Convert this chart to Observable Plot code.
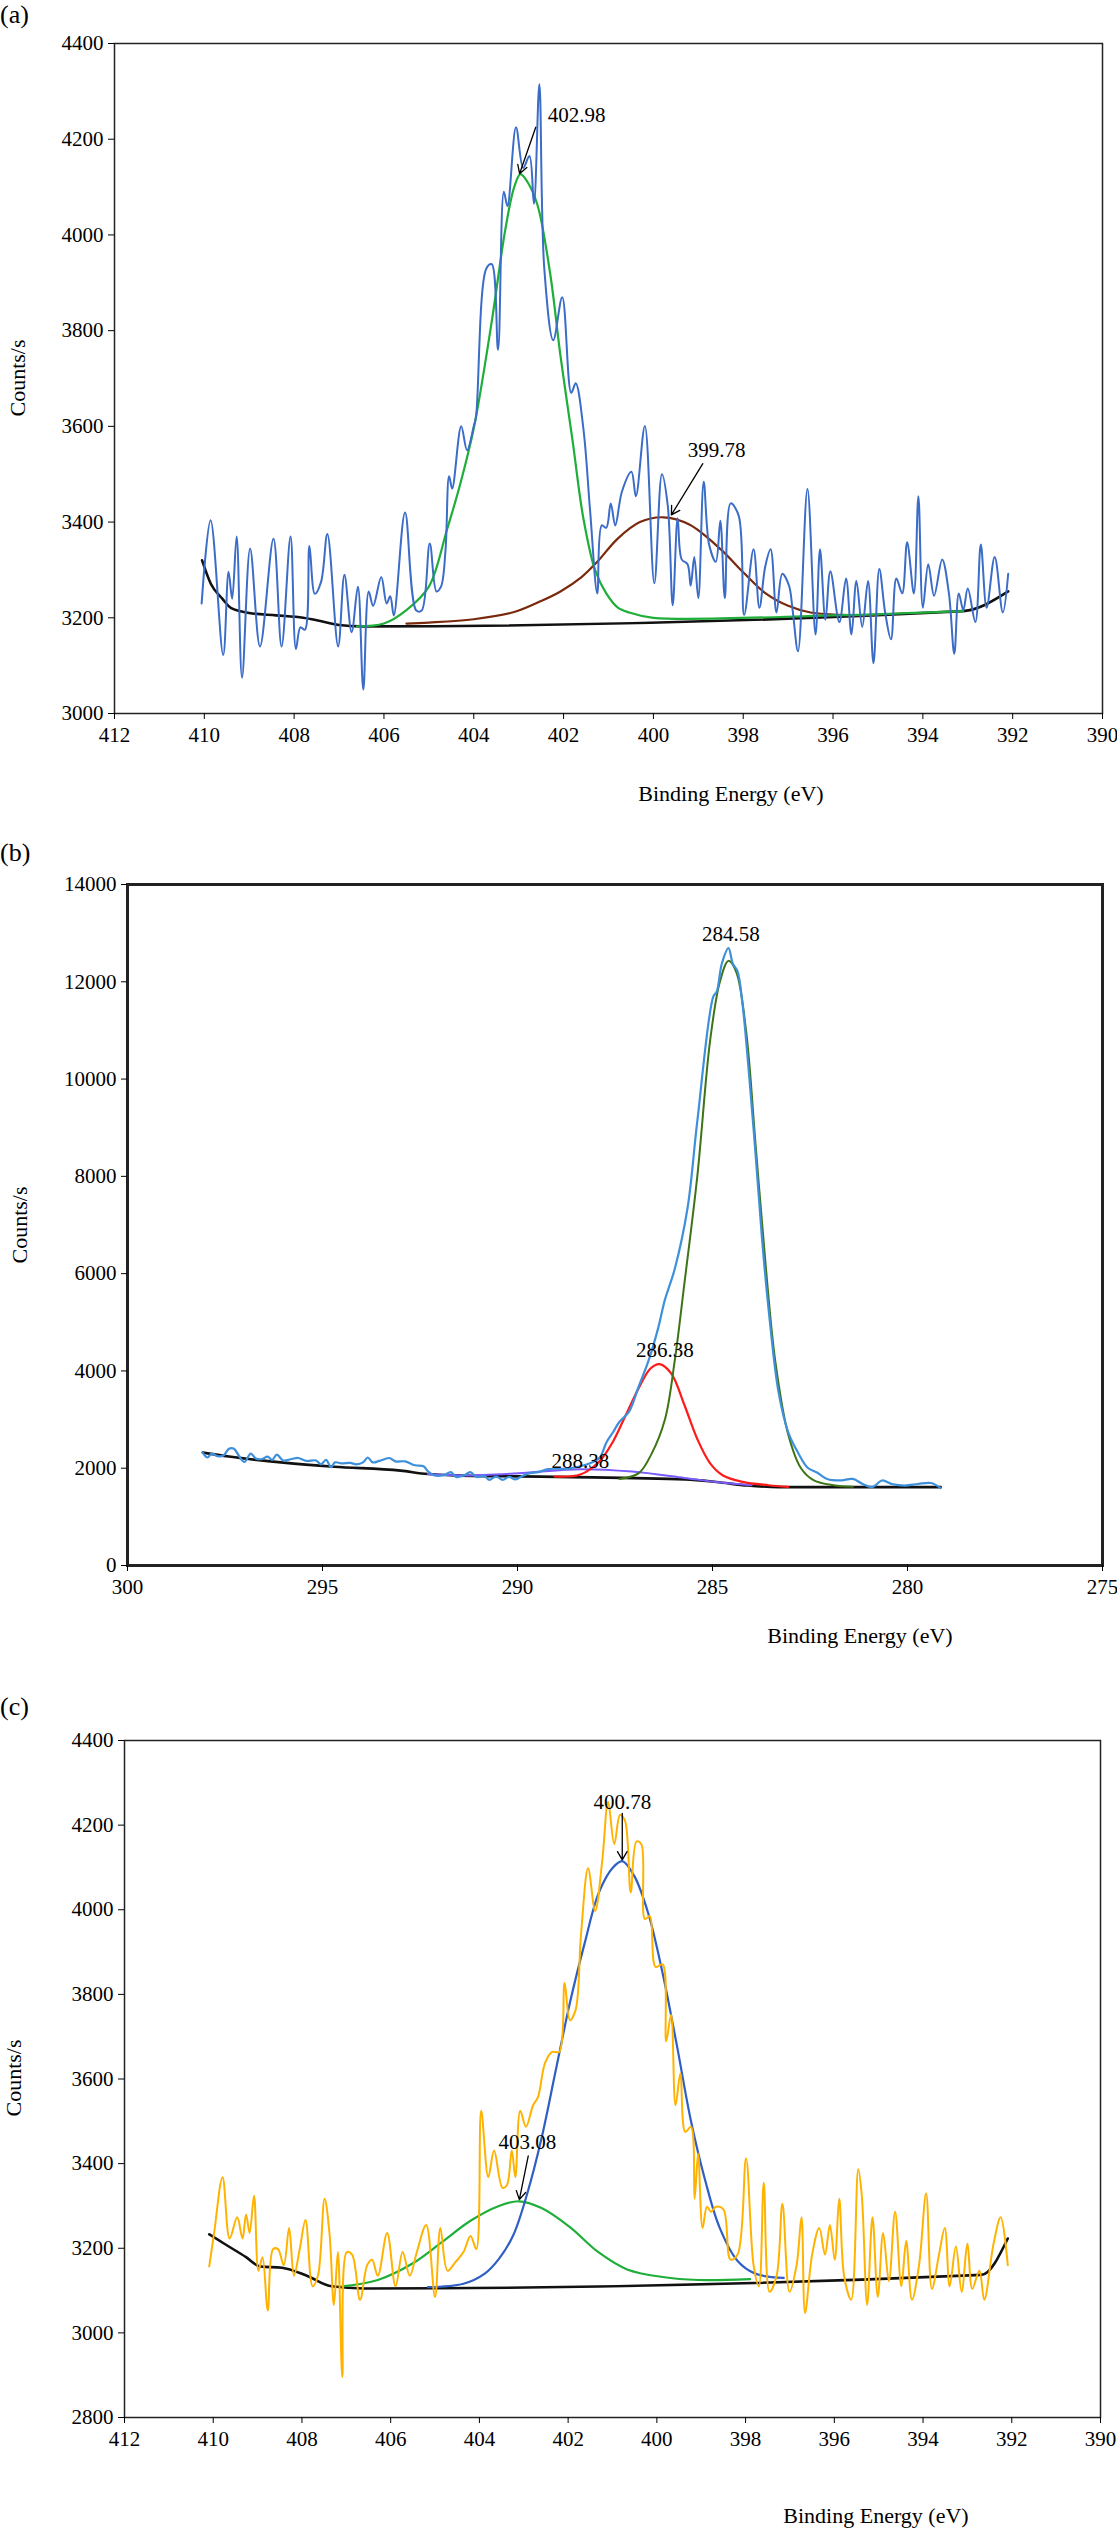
<!DOCTYPE html>
<html><head><meta charset="utf-8">
<script src="https://cdn.jsdelivr.net/npm/d3@7"></script>
<script src="https://cdn.jsdelivr.net/npm/@observablehq/plot@0.6"></script>
<style>
body{margin:0;background:#fff;font-family:'Liberation Serif','Times New Roman','DejaVu Serif',serif;}
#root{position:relative;width:1117px;height:2536px;}
.abs{position:absolute;}
.lbl{font-size:26px;}
.xt{font-size:22px;white-space:nowrap;transform:translateX(-50%);}
.yt{font-size:22px;white-space:nowrap;transform:translate(-50%,-50%) rotate(-90deg);}
svg text{font-family:'Liberation Serif','Times New Roman','DejaVu Serif',serif !important;}
</style></head><body><div id="root"></div>
<script>
// ---------- Panel (a) ----------
const aBlueX=[410.06,409.86,409.58,409.46,409.38,409.28,409.16,408.98,408.76,408.46,408.28,408.08,407.96,407.86,407.76,407.66,407.54,407.40,407.26,407.02,406.88,406.72,406.58,406.46,406.34,406.24,406.06,405.94,405.86,405.78,405.53,405.28,405.16,404.98,404.83,404.73,404.63,404.55,404.48,404.28,404.15,404.0,403.95,403.72,403.6,403.46,403.33,403.25,403.06,402.9,402.76,402.66,402.54,402.43,402.23,402.03,401.83,401.73,401.56,401.41,401.25,401.15,401.05,400.95,400.85,400.7,400.49,400.39,400.19,399.98,399.81,399.68,399.57,399.46,399.37,399.24,399.17,399.09,399.0,398.88,398.76,398.61,398.51,398.41,398.28,398.1,397.98,397.77,397.64,397.51,397.39,397.26,397.13,396.98,396.9,396.78,396.57,396.39,396.29,396.17,396.06,395.86,395.71,395.59,395.48,395.35,395.22,395.1,394.97,394.84,394.71,394.59,394.46,394.35,394.2,394.1,394.0,393.88,393.75,393.57,393.42,393.3,393.2,393.1,393.0,392.83,392.71,392.58,392.4,392.22,392.1];
const aBlueY=[3230,3404,3122,3296,3240,3370,3075,3345,3140,3365,3140,3370,3135,3180,3175,3350,3250,3275,3375,3140,3290,3170,3265,3050,3255,3225,3285,3230,3245,3205,3420,3215,3215,3355,3255,3265,3340,3496,3470,3600,3550,3600,3620,3930,3939,3760,4090,4060,4225,4140,4165,4065,4315,3930,3780,3870,3670,3690,3596,3424,3251,3393,3388,3439,3393,3464,3505,3454,3601,3272,3500,3434,3226,3408,3322,3312,3267,3327,3241,3484,3353,3317,3403,3241,3439,3413,3206,3343,3221,3307,3343,3211,3292,3267,3216,3130,3469,3165,3343,3196,3297,3191,3282,3165,3277,3181,3277,3105,3302,3211,3155,3282,3251,3358,3251,3454,3221,3312,3246,3322,3251,3125,3251,3216,3261,3191,3353,3221,3327,3211,3292];
const aBgX=[410.05,409.85,409.6,409.4,409.0,408.4,407.8,407.5,407.0,406.5,393.1,392.1];
const aBgY=[3320,3270,3240,3220,3210,3205,3200,3195,3185,3182,3214,3255];
const aGreenX=[406.6,406.0,405.5,405.0,404.6,404.3,404.0,403.6,403.3,403.1,402.96,402.8,402.58,402.3,402.07,401.8,401.56,401.3,401.05,400.8,400.54,400.0,396.0,393.1];
const aGreenY=[3182,3188,3216,3265,3383,3480,3596,3819,4010,4100,4127,4110,4062,3920,3748,3570,3408,3300,3251,3222,3211,3200,3205,3214];
const aBrownX=[405.5,405.0,404.0,403.1,402.5,402.07,401.6,401.25,400.8,400.3,399.78,399.2,398.5,398.0,397.5,397.0,396.5,395.8,395.0];
const aBrownY=[3188,3190,3197,3212,3235,3255,3285,3317,3365,3400,3410,3395,3343,3295,3251,3225,3211,3206,3206];
// ---------- Panel (b) ----------
const bBlueX=[298.07,297.95,297.84,297.70,297.54,297.40,297.27,297.14,297.00,296.84,296.71,296.54,296.41,296.29,296.17,296.01,295.79,295.62,295.41,295.17,295.04,294.91,294.78,294.68,294.51,294.29,294.13,293.96,293.84,293.71,293.54,293.29,293.13,292.88,292.63,292.41,292.30,292.13,291.88,291.71,291.58,291.38,291.21,291.05,290.85,290.72,290.55,290.38,290.22,290.05,289.88,289.68,289.47,289.22,289.05,288.72,288.39,288.14,287.89,287.72,287.55,287.39,287.14,286.89,286.64,286.39,286.22,285.97,285.64,285.39,284.98,284.89,284.76,284.59,284.48,284.36,284.23,284.06,283.89,283.73,283.56,283.31,283.06,282.81,282.56,282.31,282.06,281.73,281.40,281.15,280.90,280.65,280.40,280.07,279.73,279.40,279.15];
const bBlueY=[2320,2220,2300,2250,2260,2400,2400,2250,2130,2300,2200,2190,2240,2170,2280,2160,2190,2210,2150,2160,2080,2170,2020,2120,2100,2110,2080,2120,2220,2120,2150,2210,2140,2140,2060,2040,1940,1850,1860,1920,1820,1850,1920,1820,1840,1760,1830,1760,1820,1770,1840,1900,1920,1980,1990,1990,2040,2100,2220,2530,2740,2950,3162,3685,4210,4890,5465,6090,7350,9130,11694,11800,12375,12690,12375,12220,11540,10070,8400,6720,5256,3580,2743,2324,2010,1906,1780,1748,1780,1675,1612,1748,1675,1644,1675,1696,1591];
const bBgX=[298.07,297.4,296.0,294.7,293.0,292.3,291.6,289.0,285.7,284.9,284.1,283.3,279.15];
const bBgY=[2320,2240,2115,2031,1950,1880,1853,1822,1770,1717,1644,1612,1612];
const bPurpleX=[292.3,291.38,289.88,288.39,287.06,285.72,284.9,284.0];
const bPurpleY=[1880,1850,1900,1980,1930,1800,1717,1650];
const bRedX=[289.05,288.39,287.89,287.55,287.22,286.89,286.59,286.36,286.06,285.72,285.39,285.06,284.73,284.23,283.56,283.06];
const bRedY=[1830,1870,2150,2550,3100,3650,4050,4140,3950,3300,2600,2100,1850,1720,1650,1615];
const bGreenX=[287.39,286.89,286.56,286.22,285.97,285.72,285.39,285.06,284.81,284.59,284.39,284.14,283.89,283.64,283.39,283.06,282.73,282.4,281.9,281.4];
const bGreenY=[1780,1900,2300,3000,4200,5800,8000,10800,12000,12430,12200,11000,8600,6200,4200,2700,2000,1750,1650,1620];
// ---------- Panel (c) ----------
const cOrangeX=[410.09,409.98,409.79,409.63,409.46,409.34,409.26,409.18,409.08,408.98,408.89,408.77,408.65,408.54,408.41,408.29,408.18,408.05,407.92,407.76,407.64,407.49,407.38,407.28,407.19,407.09,406.99,406.87,406.69,406.53,406.42,406.29,406.08,405.89,405.73,405.57,405.41,405.20,405.0,404.88,404.72,404.55,404.36,404.20,404.07,403.96,403.80,403.67,403.48,403.38,403.27,403.19,403.08,402.95,402.79,402.68,402.52,402.36,402.20,402.08,401.96,401.83,401.71,401.55,401.39,401.23,401.10,400.96,400.83,400.72,400.59,400.46,400.35,400.27,400.16,400.03,399.87,399.79,399.68,399.58,399.47,399.36,399.23,399.15,399.07,398.97,398.87,398.78,398.67,398.50,398.34,398.18,397.99,397.82,397.70,397.59,397.46,397.30,397.17,397.01,396.85,396.74,396.66,396.50,396.34,396.21,396.10,395.99,395.89,395.78,395.62,395.46,395.38,395.26,395.14,395.02,394.90,394.77,394.63,394.49,394.38,394.25,394.09,393.93,393.80,393.64,393.51,393.40,393.26,393.13,393.00,392.89,392.73,392.62,392.41,392.25,392.09];
const cOrangeY=[3157,3236,3368,3223,3273,3223,3280,3236,3324,3147,3179,3053,3198,3198,3160,3248,3135,3198,3267,3110,3135,3317,3236,3066,3191,2896,3191,3185,3078,3160,3173,3135,3236,3110,3191,3135,3191,3255,3085,3248,3147,3166,3191,3229,3198,3525,3368,3431,3343,3349,3431,3368,3525,3487,3538,3557,3638,3664,3664,3827,3739,3764,3941,4098,3997,4117,4255,4155,4224,4211,4041,4161,4155,3978,3985,3865,3871,3689,3752,3538,3613,3475,3487,3317,3424,3248,3298,3286,3298,3292,3173,3185,3412,3160,3110,3355,3097,3135,3305,3097,3160,3273,3047,3185,3248,3185,3255,3173,3317,3135,3078,3387,3324,3066,3273,3085,3236,3122,3286,3110,3217,3078,3160,3330,3104,3185,3248,3110,3204,3097,3211,3104,3147,3078,3211,3273,3160];
const cBgX=[410.09,409.74,409.26,408.94,408.45,407.89,407.33,406.61,392.68,392.09];
const cBgY=[3233,3210,3179,3157,3154,3135,3110,3105,3137,3223];
const cGreenX=[407.09,406.29,405.49,404.84,404.2,403.56,403.11,402.6,401.96,401.31,400.67,399.87,399.07,397.9];
const cGreenY=[3110,3125,3165,3215,3265,3300,3311,3295,3250,3190,3150,3132,3125,3127];
const cBlueX=[405.16,404.36,403.88,403.56,403.24,402.92,402.6,402.28,401.96,401.63,401.31,400.99,400.78,400.51,400.19,399.87,399.55,399.23,398.91,398.59,398.18,397.78,397.14];
const cBlueY=[3108,3116,3140,3175,3230,3330,3460,3620,3780,3920,4040,4100,4115,4080,3990,3850,3680,3500,3360,3250,3170,3140,3130];

// annotations
const aNotes=[{t:"402.98",x:401.71,y:4249,x1:402.62,y1:4225,x2:402.98,y2:4128},{t:"399.78",x:398.59,y:3550,x1:398.9,y1:3522,x2:399.6,y2:3415}];
const bNotes=[{t:"284.58",x:284.53,y:12970},{t:"286.38",x:286.22,y:4420},{t:"288.38",x:288.39,y:2150}];
const cNotes=[{t:"400.78",x:400.78,y:4255,x1:400.78,y1:4228,x2:400.78,y2:4118},{t:"403.08",x:402.92,y:3450,x1:402.9,y1:3418,x2:403.1,y2:3315}];

const FONT="'Liberation Serif','Times New Roman','DejaVu Serif',serif";
const zip=(xs,ys)=>xs.map((x,i)=>({x,y:ys[i]}));
const root=document.getElementById("root");
function place(el,top,left){el.style.position="absolute";el.style.top=top+"px";el.style.left=(left||0)+"px";root.appendChild(el);}
function txt(cls,s,top,left){const d=document.createElement("div");d.className="abs "+cls;d.textContent=s;d.style.top=top+"px";d.style.left=left+"px";root.appendChild(d);}

function panel(o){
  const marks=[
    Plot.frame({stroke:"#222",strokeWidth:o.frameW}),
    Plot.axisX({ticks:o.xt,tickSize:6,tickPadding:8,fontSize:21,label:null,tickFormat:d=>String(d)}),
    Plot.axisY({ticks:o.yt,tickSize:6,tickPadding:5,fontSize:21,label:null,tickFormat:d=>String(d)})
  ];
  for(const s of o.series) marks.push(Plot.line(s.d,{x:"x",y:"y",stroke:s.c,strokeWidth:s.w,curve:s.curve||"catmull-rom"}));
  for(const n of o.notes){
    if(n.x1!==undefined) marks.push(Plot.arrow([n],{x1:"x1",y1:"y1",x2:"x2",y2:"y2",stroke:"#000",strokeWidth:1.3,headLength:11}));
  }
  marks.push(Plot.text(o.notes,{x:"x",y:"y",text:"t",fontSize:21,fill:"#000"}));
  return Plot.plot({width:1117,height:o.h,marginTop:o.mt,marginBottom:o.mb,marginLeft:o.ml,marginRight:o.mr,
    style:{fontFamily:FONT,fontSize:"21px",color:"#000",background:"white"},
    x:{domain:o.xd},y:{domain:o.yd},marks});
}

const pa=panel({h:760,mt:43,mb:47,ml:114,mr:15,frameW:1.5,xd:[412,390],yd:[3000,4400],
  xt:d3.range(412,389,-2),yt:d3.range(3000,4401,200),notes:aNotes,
  series:[{d:zip(aBgX,aBgY),c:"#111",w:2.6,curve:"monotone-x"},{d:zip(aBrownX,aBrownY),c:"#7a2a0c",w:2.2},{d:zip(aGreenX,aGreenY),c:"#1fae3a",w:2.2},{d:zip(aBlueX,aBlueY),c:"#3a6cc8",w:2}]});
place(pa,0);
const pb=panel({h:772,mt:44,mb:47,ml:127,mr:15,frameW:3,xd:[300,275],yd:[0,14000],
  xt:d3.range(300,274,-5),yt:d3.range(0,14001,2000),notes:bNotes,
  series:[{d:zip(bBgX,bBgY),c:"#111",w:2.6,curve:"monotone-x"},{d:zip(bPurpleX,bPurpleY),c:"#7b5cff",w:2},{d:zip(bRedX,bRedY),c:"#ff1a1a",w:2.2},{d:zip(bGreenX,bGreenY),c:"#3d7416",w:2},{d:zip(bBlueX,bBlueY),c:"#3f90db",w:2.2}]});
place(pb,840);
const pc=panel({h:768,mt:44,mb:47,ml:124,mr:17,frameW:1.5,xd:[412,390],yd:[2800,4400],
  xt:d3.range(412,389,-2),yt:d3.range(2800,4401,200),notes:cNotes,
  series:[{d:zip(cBgX,cBgY),c:"#111",w:2.6,curve:"monotone-x"},{d:zip(cGreenX,cGreenY),c:"#1fae3a",w:2.2},{d:zip(cBlueX,cBlueY),c:"#2f5fc4",w:2.2},{d:zip(cOrangeX,cOrangeY),c:"#ffb300",w:2}]});
place(pc,1696);

txt("lbl","(a)",0,0); txt("lbl","(b)",838,0); txt("lbl","(c)",1692,0);
txt("xt","Binding Energy (eV)",781,731); txt("xt","Binding Energy (eV)",1623,860); txt("xt","Binding Energy (eV)",2503,876);
txt("yt","Counts/s",378,18); txt("yt","Counts/s",1225,20); txt("yt","Counts/s",2078,14);
</script></body></html>
